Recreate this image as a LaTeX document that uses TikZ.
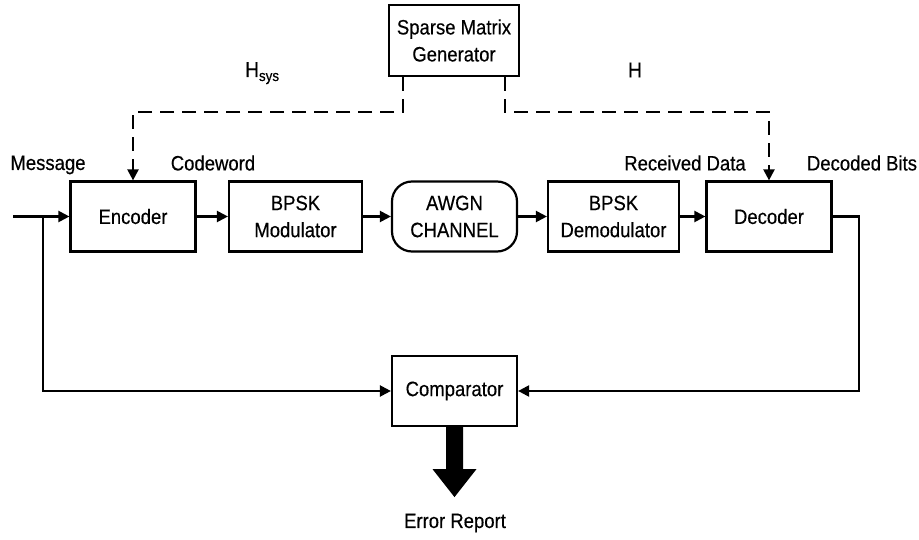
\documentclass[tikz,border=0pt]{standalone}
\usepackage{fontspec}
\setmainfont{Liberation Sans}[FakeStretch=0.89, FakeBold=0.4]
\usetikzlibrary{arrows.meta}

\begin{document}
\begin{tikzpicture}[x=1pt,y=-1pt,
  txt/.style={font=\fontsize{20.8}{27}\selectfont, inner sep=0pt},
  blk/.style={txt, draw, line width=2.2pt, fill=white, align=center,
              minimum width=125pt, minimum height=70pt},
  chan/.style={blk, rounded corners=20pt},
  conn/.style={line width=2.2pt, -{Triangle[length=11pt,width=11pt]}},
  dsh/.style={conn, dash pattern=on 14pt off 8pt},
  bigtxt/.style={font=\fontsize{21.5}{21.5}\selectfont, inner sep=0pt}
]
\useasboundingbox (0,0) rectangle (919,540);

% processing chain
\node[blk] (enc)   at (133,216.5)   {Encoder};
\node[blk, minimum width=133pt] (mod) at (295.5,216.5) {BPSK\\Modulator};
\node[chan] (awgn) at (454.5,216.5) {AWGN\\CHANNEL};
\node[blk, minimum width=131pt] (demod) at (613.5,216.5) {BPSK\\Demodulator};
\node[blk] (dec)   at (769,216.5)   {Decoder};
\node[blk, minimum width=130pt, minimum height=71pt] (smg) at (454,40.5) {Sparse Matrix\\Generator};
\node[blk] (cmp)   at (454.5,391)   {Comparator};

% labels
\node[txt] (lmsg) at (48,165)  {Message};
\node[txt] (lcw)  at (213,163) {Codeword};
\node[txt] (lrx)  at (685,163) {Received Data};
\node[txt] (ldb)  at (862,163) {Decoded Bits};
\node[txt] (lerr) at (455,523) {Error Report};
\node[bigtxt, anchor=base west] (lhsys) at (245,77)
  {H\raisebox{-4pt}{\fontsize{15}{15}\selectfont sys}};
\node[bigtxt] (lh) at (635,70) {H};

% input and signal path
\coordinate (in)  at (13,216.5);
\coordinate (tap) at (43,216.5);
\draw[conn] (in) -- (enc.west);
\draw[conn] (enc) -- (mod);
\draw[conn] (mod) -- (awgn);
\draw[conn] (awgn) -- (demod);
\draw[conn] (demod) -- (dec);

% parity-check matrices
\draw[dsh] ([xshift=-51pt]smg.south) -- ++(0,35) -| (enc.north);
\draw[dsh] ([xshift=51pt]smg.south) -- ++(0,35) -| (dec.north);

% comparison of message and decoded bits
\draw[conn] (tap) |- (cmp.west);
\draw[conn] (dec.east) -- ++(26,0) |- (cmp.east);

% error report output
\fill ([xshift=-8.5pt]cmp.south) -- ++(0,42) -- ++(-13.5,0) -- ++(22,28)
      -- ++(22,-28) -- ++(-13.5,0) -- ++(0,-42) -- cycle;
\end{tikzpicture}
\end{document}
